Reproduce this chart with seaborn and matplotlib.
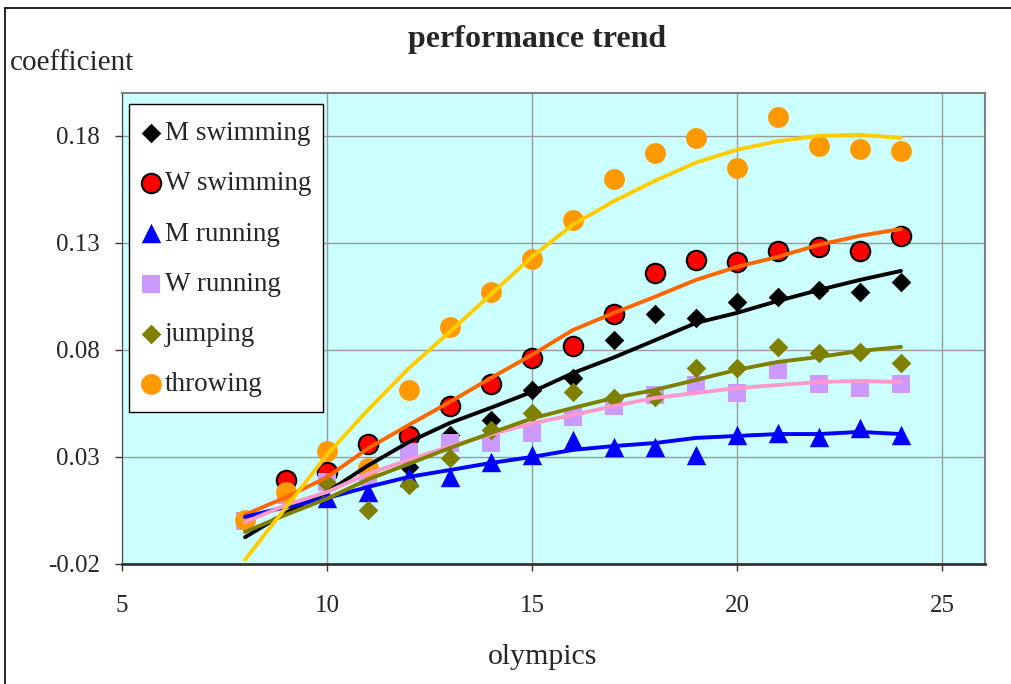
import numpy as np
import pandas as pd
import matplotlib
matplotlib.use("Agg")
import matplotlib.pyplot as plt
from matplotlib.lines import Line2D
from matplotlib.patches import Rectangle
import seaborn as sns

# Data
olympics = list(range(8, 25))

m_swim_x = list(range(12, 25))
m_swim = [0.0253, 0.0403, 0.0473, 0.0613, 0.0669, 0.0847, 0.0968, 0.0950, 0.1024,
          0.1048, 0.1080, 0.1071, 0.1118]

w_swim_x = list(range(9, 25))
w_swim = [0.0193, 0.0230, 0.0360, 0.0398, 0.0538, 0.0641, 0.0763, 0.0819, 0.0968,
          0.1160, 0.1220, 0.1211, 0.1263, 0.1281, 0.1263, 0.1333]

m_run_x = list(range(10, 25))
m_run = [0.0110, 0.0136, 0.0207, 0.0207, 0.0277, 0.0310, 0.0379, 0.0347, 0.0347,
         0.0309, 0.0403, 0.0412, 0.0393, 0.0436, 0.0403]

w_run_x = list(range(8, 25))
w_run = [0.0000, 0.0120, 0.0183, 0.0207, 0.0323, 0.0365, 0.0365, 0.0412, 0.0487,
         0.0538, 0.0590, 0.0636, 0.0599, 0.0707, 0.0641, 0.0622, 0.0641]

jump_x = list(range(10, 25))
jump = [0.0178, 0.0052, 0.0169, 0.0295, 0.0426, 0.0506, 0.0604, 0.0576, 0.0580,
        0.0716, 0.0716, 0.0814, 0.0786, 0.0791, 0.0739]

throw_x = list(range(8, 25))
throw = [0.0006, 0.0136, 0.0328, 0.0249, 0.0613, 0.0907, 0.1071, 0.1225, 0.1407,
         0.1599, 0.1720, 0.1790, 0.1650, 0.1890, 0.1753, 0.1740, 0.1730]

# trend lines (x = 8..24)
m_swim_trend = [-0.0075, 0.0040, 0.0135, 0.0260, 0.0370, 0.0459, 0.0530, 0.0604, 0.0692,
                0.0765, 0.0845, 0.0926, 0.0973, 0.1029, 0.1080, 0.1127, 0.1169]
w_swim_trend = [0.0030, 0.0112, 0.0205, 0.0340, 0.0450, 0.0557, 0.0669, 0.0777, 0.0893,
                0.0973, 0.1048, 0.1127, 0.1188, 0.1235, 0.1291, 0.1333, 0.1365]
m_run_trend = [0.0020, 0.0066, 0.0108, 0.0160, 0.0207, 0.0239, 0.0272, 0.0300, 0.0333,
               0.0351, 0.0365, 0.0389, 0.0398, 0.0407, 0.0407, 0.0417, 0.0407]
w_run_trend = [-0.0005, 0.0076, 0.0136, 0.0222, 0.0286, 0.0350, 0.0405, 0.0457, 0.0496,
               0.0538, 0.0576, 0.0599, 0.0622, 0.0636, 0.0650, 0.0655, 0.0650]
jump_trend = [-0.0050, 0.0030, 0.0105, 0.0195, 0.0268, 0.0342, 0.0412, 0.0480, 0.0529,
              0.0576, 0.0613, 0.0660, 0.0707, 0.0744, 0.0767, 0.0795, 0.0814]
throw_trend = [-0.0180, 0.0065, 0.0310, 0.0520, 0.0715, 0.0885, 0.1060, 0.1235, 0.1385,
               0.1495, 0.1590, 0.1675, 0.1735, 0.1775, 0.1800, 0.1805, 0.1790]

y_ticks = [-0.02, 0.03, 0.08, 0.13, 0.18]
x_ticks = [5, 10, 15, 20, 25]

#####################################################
sns.set_style("white")
plt.rcParams['font.family'] = ['Liberation Serif', 'DejaVu Serif']

fig = plt.figure(figsize=(10.12, 6.84), dpi=100)
ax = fig.add_axes([122/1012, 1-564/684, 863/1012, 471/684])
ax.set_facecolor('#CCFFFF')

series = [
    ('M swimming', m_swim_x, m_swim, 'D', 'black', 'black', 10, 0),
    ('W swimming', w_swim_x, w_swim, 'o', '#FF0000', 'black', 14, 1.5),
    ('M running', m_run_x, m_run, '^', '#0000FF', '#0000FF', 14, 0),
    ('W running', w_run_x, w_run, 's', '#CC99FF', '#CC99FF', 13.5, 0),
    ('jumping', jump_x, jump, 'D', '#808000', '#808000', 10, 0),
    ('throwing', throw_x, throw, 'o', '#FF9900', '#FF9900', 15, 0),
]
for lab, xs, ys, mk, fc, ec, size, lw in series:
    sns.scatterplot(x=xs, y=ys, ax=ax, marker=mk, s=size**2, color=fc,
                    edgecolor=ec, linewidth=lw, label=lab, zorder=3)

trends = [
    (m_swim_trend, 'black'),
    (w_swim_trend, '#FF6600'),
    (m_run_trend, '#0000FF'),
    (w_run_trend, '#FF99CC'),
    (jump_trend, '#808000'),
    (throw_trend, '#FFCC00'),
]
for ys, c in trends:
    sns.lineplot(x=olympics, y=ys, ax=ax, color=c, lw=2.8, zorder=4, legend=False)

ax.set_xlim(5, 26.05)
ax.set_ylim(-0.02, 0.2)
ax.set_xticks(x_ticks)
ax.set_yticks(y_ticks)
ax.set_yticklabels([f'{v:.2f}' for v in y_ticks])
ax.grid(True, color='#999999', lw=1)
ax.set_axisbelow(True)
ax.tick_params(direction='out', length=5, width=1, color='#333333',
               labelsize=18, bottom=True, left=True)
ax.tick_params(axis='y', pad=11)
ax.tick_params(axis='x', pad=17)
for s in ['top', 'right']:
    ax.spines[s].set_color('#808080')
    ax.spines[s].set_linewidth(1.5)
ax.spines['left'].set_color('#404040')
ax.spines['bottom'].set_color('#333333')
ax.spines['bottom'].set_linewidth(2)
ax.set_xlabel('')
ax.set_ylabel('')

# legend box drawn separately so the entries can sit lower inside it
ax.add_patch(Rectangle((7/863, 152/471), 194/863, 308/471, transform=ax.transAxes,
                       facecolor='white', edgecolor='black', lw=1, zorder=9))
leg = ax.legend(loc='upper left', bbox_to_anchor=(0.008, 0.962), borderaxespad=0,
                fontsize=19.5, frameon=False, handletextpad=0.1,
                labelspacing=0.93, borderpad=0.38, handlelength=0.85)
leg.set_zorder(10)

fig.text(537/1012, 1-39/684, 'performance trend', ha='center', va='center',
         fontsize=23, fontweight='bold')
fig.text(10/1012, 1-63/684, 'coefficient', ha='left', va='center', fontsize=21)
fig.text(543/1012, 1-657/684, 'olympics', ha='center', va='center', fontsize=21.5)

# outer chart border
fig.add_artist(Line2D([5/1012, 5/1012], [0, 1-8/684], color='black', lw=1.2,
                      transform=fig.transFigure))
fig.add_artist(Line2D([5/1012, 1], [1-8/684, 1-8/684], color='black', lw=1.2,
                      transform=fig.transFigure))

plt.savefig('out.png', dpi=100)
